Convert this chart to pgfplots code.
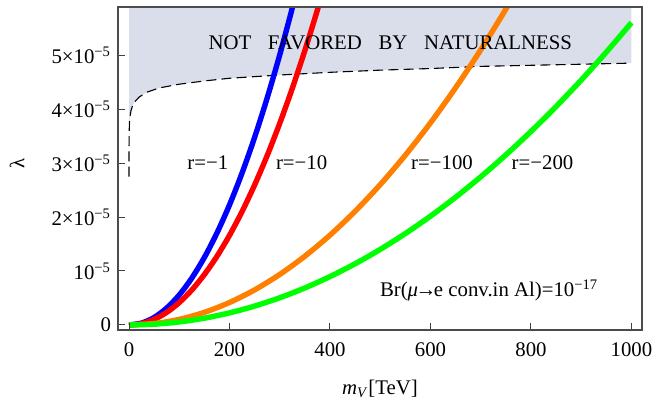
\documentclass[border=0pt]{standalone}
\usepackage{fontspec}
\setmainfont{Liberation Serif}
\usepackage{pgfplots}
\pgfplotsset{compat=1.18}
\definecolor{natfill}{RGB}{217,222,234}
\definecolor{morange}{RGB}{255,128,0}
\definecolor{mgreen}{RGB}{0,255,0}
\begin{document}
\begin{tikzpicture}[font=\fontsize{10.4bp}{12.5bp}\selectfont]
\begin{axis}[
  scale only axis, width=262bp, height=161.5bp,
  xmin=-21.9, xmax=1021, ymin=-0.093, ymax=5.89,
  axis on top,
  axis line style={black!70, line width=0.6bp},
  tick align=inside, xtick pos=lower, ytick pos=left,
  major tick length=3.5bp,
  tick style={black!75, line width=0.5bp},
  xtick={0,200,400,600,800,1000},
  xticklabels={0,200,400,600,800,1000},
  xticklabel style={yshift=-3bp},
  ytick={0,1,2,3,4,5},
  yticklabels={0,10\textsuperscript{−5},2×10\textsuperscript{−5},3×10\textsuperscript{−5},4×10\textsuperscript{−5},5×10\textsuperscript{−5}},
  xlabel={\textit{m}\textsubscript{\textit{V}}[TeV]},
  xlabel style={at={(axis description cs:0.5,-0.181)}, anchor=center},
  ylabel={λ},
  ylabel style={at={(axis description cs:-0.1927,0.515)}, anchor=center},
]
% shaded region
\addplot[fill=natfill, draw=none] coordinates {
 (0,6.5) (0,3.62) (0.5,3.62) (1,3.76) (2,3.86) (4,3.97) (7,4.06) (12,4.14) (20,4.22) (35,4.31) (60,4.39) (100,4.46) (150,4.52) (200,4.57) (300,4.63) (400,4.68) (500,4.72) (600,4.75) (700,4.79) (800,4.81) (900,4.83) (1000,4.85) (1000,6.5)
};
% naturalness boundary
\addplot[black, dash pattern=on 5bp off 2.6bp, line width=0.55bp] coordinates {
 (0,2.75) (0.1,3.35) (0.5,3.62) (1,3.76) (2,3.86) (4,3.97) (7,4.06) (12,4.14) (20,4.22) (35,4.31) (60,4.39) (100,4.46) (150,4.52) (200,4.57) (300,4.63) (400,4.68) (500,4.72) (600,4.75) (700,4.79) (800,4.81) (900,4.83) (1000,4.85)
};
% r = -1
\addplot[blue, line width=2.7bp, smooth] coordinates {
 (0,0) (25,0.035) (50,0.139) (75,0.313) (100,0.556) (125,0.869) (150,1.251) (175,1.703) (200,2.224) (225,2.815) (250,3.475) (275,4.205) (300,5.004) (325,5.873) (350,6.81)
};
% r = -10
\addplot[red, line width=2.7bp, smooth] coordinates {
 (0,0) (25,0.026) (50,0.104) (75,0.233) (100,0.415) (125,0.648) (150,0.934) (175,1.271) (200,1.660) (225,2.101) (250,2.594) (275,3.138) (300,3.735) (325,4.383) (350,5.084) (375,5.836) (400,6.64)
};
% r = -100
\addplot[morange, line width=2.7bp, smooth] coordinates {
 (0,0) (50,0.026) (100,0.104) (150,0.234) (200,0.416) (250,0.650) (300,0.936) (350,1.274) (400,1.664) (450,2.106) (500,2.600) (550,3.146) (600,3.744) (650,4.394) (700,5.096) (750,5.850) (800,6.656)
};
% r = -200
\addplot[mgreen, line width=2.7bp, smooth] coordinates {
 (0,0) (50,0.014) (100,0.056) (150,0.126) (200,0.224) (250,0.350) (300,0.504) (350,0.686) (400,0.896) (450,1.134) (500,1.400) (550,1.694) (600,2.016) (650,2.366) (700,2.744) (750,3.150) (800,3.584) (850,4.046) (900,4.536) (950,5.054) (1000,5.600)
};
\node[anchor=base] at (axis cs:520,5.11) {NOT\hspace{0.8em}FAVORED\hspace{0.8em}BY\hspace{0.8em}NATURALNESS};
\node[anchor=center] at (axis cs:157,3.0) {r=−1};
\node[anchor=center] at (axis cs:343.6,3.0) {r=−10};
\node[anchor=center] at (axis cs:623,3.0) {r=−100};
\node[anchor=center] at (axis cs:823,3.0) {r=−200};
\node[anchor=base] at (axis cs:716.6,0.524) {Br(\textit{μ}\kern-0.12em→\kern-0.12em e conv.in Al)=10\textsuperscript{−17}};
\end{axis}
\pgfresetboundingbox
\path[use as bounding box] ([shift={(-59bp,-38.5bp)}]current axis.south west) rectangle ([shift={(5bp,3.5bp)}]current axis.north east);
\end{tikzpicture}
\end{document}
